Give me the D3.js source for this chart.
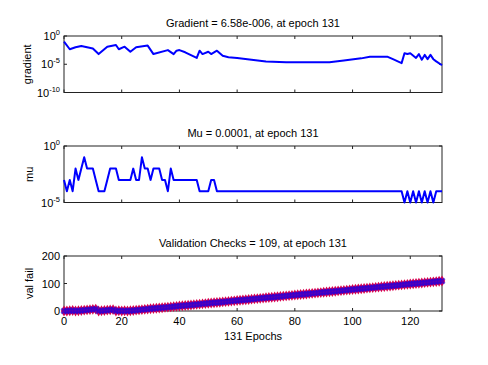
<!DOCTYPE html>
<html>
<head>
<meta charset="utf-8">
<script src="https://cdn.jsdelivr.net/npm/d3@7"></script>
<style>
body { margin: 0; background: #fff; }
svg text { font-family: "Liberation Sans", Arial, sans-serif; fill: #000; }
</style>
</head>
<body>
<svg width="488" height="365"></svg>
<script>
// gradient, read at the epochs where the curve turns
var gradEpochs = [0, 2, 4, 6, 10, 12, 15, 18, 19, 21, 23, 25, 29, 31, 36, 38, 39, 40, 42, 46,
  47, 48, 50, 51, 53, 55, 57, 60, 65, 70, 77, 92, 97, 103, 106, 112, 114, 117, 118, 119,
  120, 122, 123, 124, 125, 126, 127, 128, 129, 131];
var gradValues = [1e-1, 4.5e-3, 1e-2, 1.7e-2, 6.3e-3, 6.3e-4, 1.3e-2, 2.5e-2, 4.5e-3, 1.3e-2,
  1.6e-3, 1e-2, 2e-2, 6.3e-4, 3.2e-3, 6.3e-4, 2.5e-3, 3.2e-3, 1.3e-3, 1.3e-4,
  2.5e-3, 6.3e-4, 1.6e-3, 6.3e-4, 2.5e-3, 3.2e-4, 1.8e-4, 1.3e-4, 6.3e-5, 3.2e-5,
  2.2e-5, 2.2e-5, 4.5e-5, 1.1e-4, 2.2e-4, 2.2e-4, 7.9e-5, 1.6e-5, 8.9e-4, 6.3e-4,
  8.9e-4, 1.3e-4, 6.3e-4, 6.3e-5, 4.5e-4, 7.9e-5, 4.5e-4, 7.9e-5, 3.2e-5, 6.58e-6];

// mu, one value per epoch 0..131
var muValues = [
  1e-3, 1e-4, 1e-3, 1e-4, 1e-2, 1e-3, 1e-2, 1e-1, 1e-2, 1e-2,
  1e-2, 1e-3, 1e-4, 1e-4, 1e-4, 1e-3, 1e-2, 1e-2, 1e-2, 1e-3,
  1e-3, 1e-3, 1e-3, 1e-3, 1e-2, 1e-3, 1e-3, 1e-1, 1e-2, 1e-2,
  1e-3, 1e-2, 1e-2, 1e-2, 1e-3, 1e-3, 1e-4, 1e-2, 1e-3, 1e-3,
  1e-3, 1e-3, 1e-3, 1e-3, 1e-3, 1e-3, 1e-3, 1e-4, 1e-4, 1e-4,
  1e-4, 1e-3, 1e-3, 1e-4, 1e-4, 1e-4, 1e-4, 1e-4, 1e-4, 1e-4,
  1e-4, 1e-4, 1e-4, 1e-4, 1e-4, 1e-4, 1e-4, 1e-4, 1e-4, 1e-4,
  1e-4, 1e-4, 1e-4, 1e-4, 1e-4, 1e-4, 1e-4, 1e-4, 1e-4, 1e-4,
  1e-4, 1e-4, 1e-4, 1e-4, 1e-4, 1e-4, 1e-4, 1e-4, 1e-4, 1e-4,
  1e-4, 1e-4, 1e-4, 1e-4, 1e-4, 1e-4, 1e-4, 1e-4, 1e-4, 1e-4,
  1e-4, 1e-4, 1e-4, 1e-4, 1e-4, 1e-4, 1e-4, 1e-4, 1e-4, 1e-4,
  1e-4, 1e-4, 1e-4, 1e-4, 1e-4, 1e-4, 1e-4, 1e-4, 1e-5, 1e-4,
  1e-5, 1e-4, 1e-5, 1e-4, 1e-5, 1e-4, 1e-5, 1e-4, 1e-5, 1e-4,
  1e-4, 1e-4];

// validation checks, one value per epoch 0..131
var valFail = [
  0, 0, 1, 2, 0, 1, 2, 3, 4, 5, 6, 7, 0, 1, 2, 3, 4, 5, 0, 1, 0, 1,
  0, 1, 2, 3, 4, 5, 6, 7, 8, 9, 10, 11, 12, 13, 14, 15, 16, 17, 18, 19,
  20, 21, 22, 23, 24, 25, 26, 27, 28, 29, 30, 31, 32, 33, 34, 35, 36, 37,
  38, 39, 40, 41, 42, 43, 44, 45, 46, 47, 48, 49, 50, 51, 52, 53, 54, 55,
  56, 57, 58, 59, 60, 61, 62, 63, 64, 65, 66, 67, 68, 69, 70, 71, 72, 73,
  74, 75, 76, 77, 78, 79, 80, 81, 82, 83, 84, 85, 86, 87, 88, 89, 90, 91,
  92, 93, 94, 95, 96, 97, 98, 99, 100, 101, 102, 103, 104, 105, 106, 107, 108, 109];

var xTicks = [0, 20, 40, 60, 80, 100, 120];
var gradTicks = [1e0, 1e-5, 1e-10];
var muTicks = [1e0, 1e-5];
var valTicks = [0, 100, 200];
var titles = ["Gradient = 6.58e-006, at epoch 131", "Mu = 0.0001, at epoch 131", "Validation Checks = 109, at epoch 131"];
var yLabels = ["gradient", "mu", "val fail"];

var svg = d3.select("svg");
var x = d3.scaleLinear().domain([0, 131]).range([64, 442]);
var epochs = d3.range(0, 132);

var yGrad = d3.scaleLog().domain([1e-10, 1e0]).range([92.5, 36]);
var yMu = d3.scaleLog().domain([1e-5, 1e0]).range([202.5, 146]);
var yVal = d3.scaleLinear().domain([0, 200]).range([311, 256]);

function powLabel(sel, v) {
  var e = Math.round(Math.log10(v));
  sel.append("tspan").text("10");
  sel.append("tspan").attr("dy", -5).attr("font-size", "7.5px").text(e);
}

function panel(y, ticks, title, label, isLog, showX, labelX) {
  var r = y.range(), bottom = r[0], top = r[1];
  var g = svg.append("g");
  g.append("text").attr("x", 253).attr("y", top - 9).attr("text-anchor", "middle")
    .attr("font-size", "11px").text(title);
  // box
  g.append("rect").attr("x", x(0)).attr("y", top).attr("width", x(131) - x(0)).attr("height", bottom - top)
    .attr("fill", "none").attr("stroke", "#222").attr("stroke-width", 1);
  // x ticks, inward, top and bottom
  xTicks.forEach(function(t) {
    g.append("line").attr("x1", x(t)).attr("x2", x(t)).attr("y1", bottom).attr("y2", bottom - 3).attr("stroke", "#222");
    g.append("line").attr("x1", x(t)).attr("x2", x(t)).attr("y1", top).attr("y2", top + 3).attr("stroke", "#222");
    if (showX) {
      g.append("text").attr("x", x(t)).attr("y", bottom + 14).attr("text-anchor", "middle")
        .attr("font-size", "11px").text(t);
    }
  });
  ticks.forEach(function(t) {
    g.append("line").attr("x1", x(0)).attr("x2", x(0) + 3).attr("y1", y(t)).attr("y2", y(t)).attr("stroke", "#222");
    g.append("line").attr("x1", x(131)).attr("x2", x(131) - 3).attr("y1", y(t)).attr("y2", y(t)).attr("stroke", "#222");
    var tx = g.append("text").attr("x", 60).attr("y", y(t) + 4).attr("text-anchor", "end").attr("font-size", "11px");
    if (isLog) powLabel(tx, t); else tx.text(t);
  });
  g.append("text").attr("transform", "translate(" + labelX + "," + ((top + bottom) / 2) + ") rotate(-90)")
    .attr("text-anchor", "middle").attr("font-size", "11px").text(label);
  return g;
}

panel(yGrad, gradTicks, titles[0], yLabels[0], true, false, 31);
panel(yMu, muTicks, titles[1], yLabels[1], true, false, 33);
panel(yVal, valTicks, titles[2], yLabels[2], false, true, 33);

svg.append("text").attr("x", 253).attr("y", 340).attr("text-anchor", "middle")
  .attr("font-size", "11px").text("131 Epochs");

// gradient line
svg.append("path")
  .datum(gradEpochs.map(function(e, i) { return [e, gradValues[i]]; }))
  .attr("fill", "none").attr("stroke", "#0000ff").attr("stroke-width", 2).attr("stroke-linejoin", "round")
  .attr("d", d3.line().x(function(d) { return x(d[0]); }).y(function(d) { return yGrad(d[1]); }));

// mu line
svg.append("path")
  .datum(epochs)
  .attr("fill", "none").attr("stroke", "#0000ff").attr("stroke-width", 2).attr("stroke-linejoin", "round")
  .attr("d", d3.line().x(function(d) { return x(d); }).y(function(d) { return yMu(muValues[d]); }));

// validation checks: line with markers
svg.append("path")
  .datum(epochs)
  .attr("fill", "none").attr("stroke", "#0000ff").attr("stroke-width", 2)
  .attr("d", d3.line().x(function(d) { return x(d); }).y(function(d) { return yVal(valFail[d]); }));

var marks = svg.append("g");
marks.selectAll(".red").data(epochs).enter().append("path")
  .attr("class", "red")
  .attr("transform", function(d) { return "translate(" + x(d) + "," + yVal(valFail[d]) + ")"; })
  .attr("d", d3.symbol().type(d3.symbolDiamond).size(34))
  .attr("fill", "#d8004e");
marks.selectAll(".blue").data(epochs).enter().append("path")
  .attr("class", "blue")
  .attr("transform", function(d) { return "translate(" + x(d) + "," + yVal(valFail[d]) + ") rotate(45)"; })
  .attr("d", d3.symbol().type(d3.symbolCross).size(30))
  .attr("fill", "#2a00d8").attr("opacity", 0.7);
</script>
</body>
</html>
